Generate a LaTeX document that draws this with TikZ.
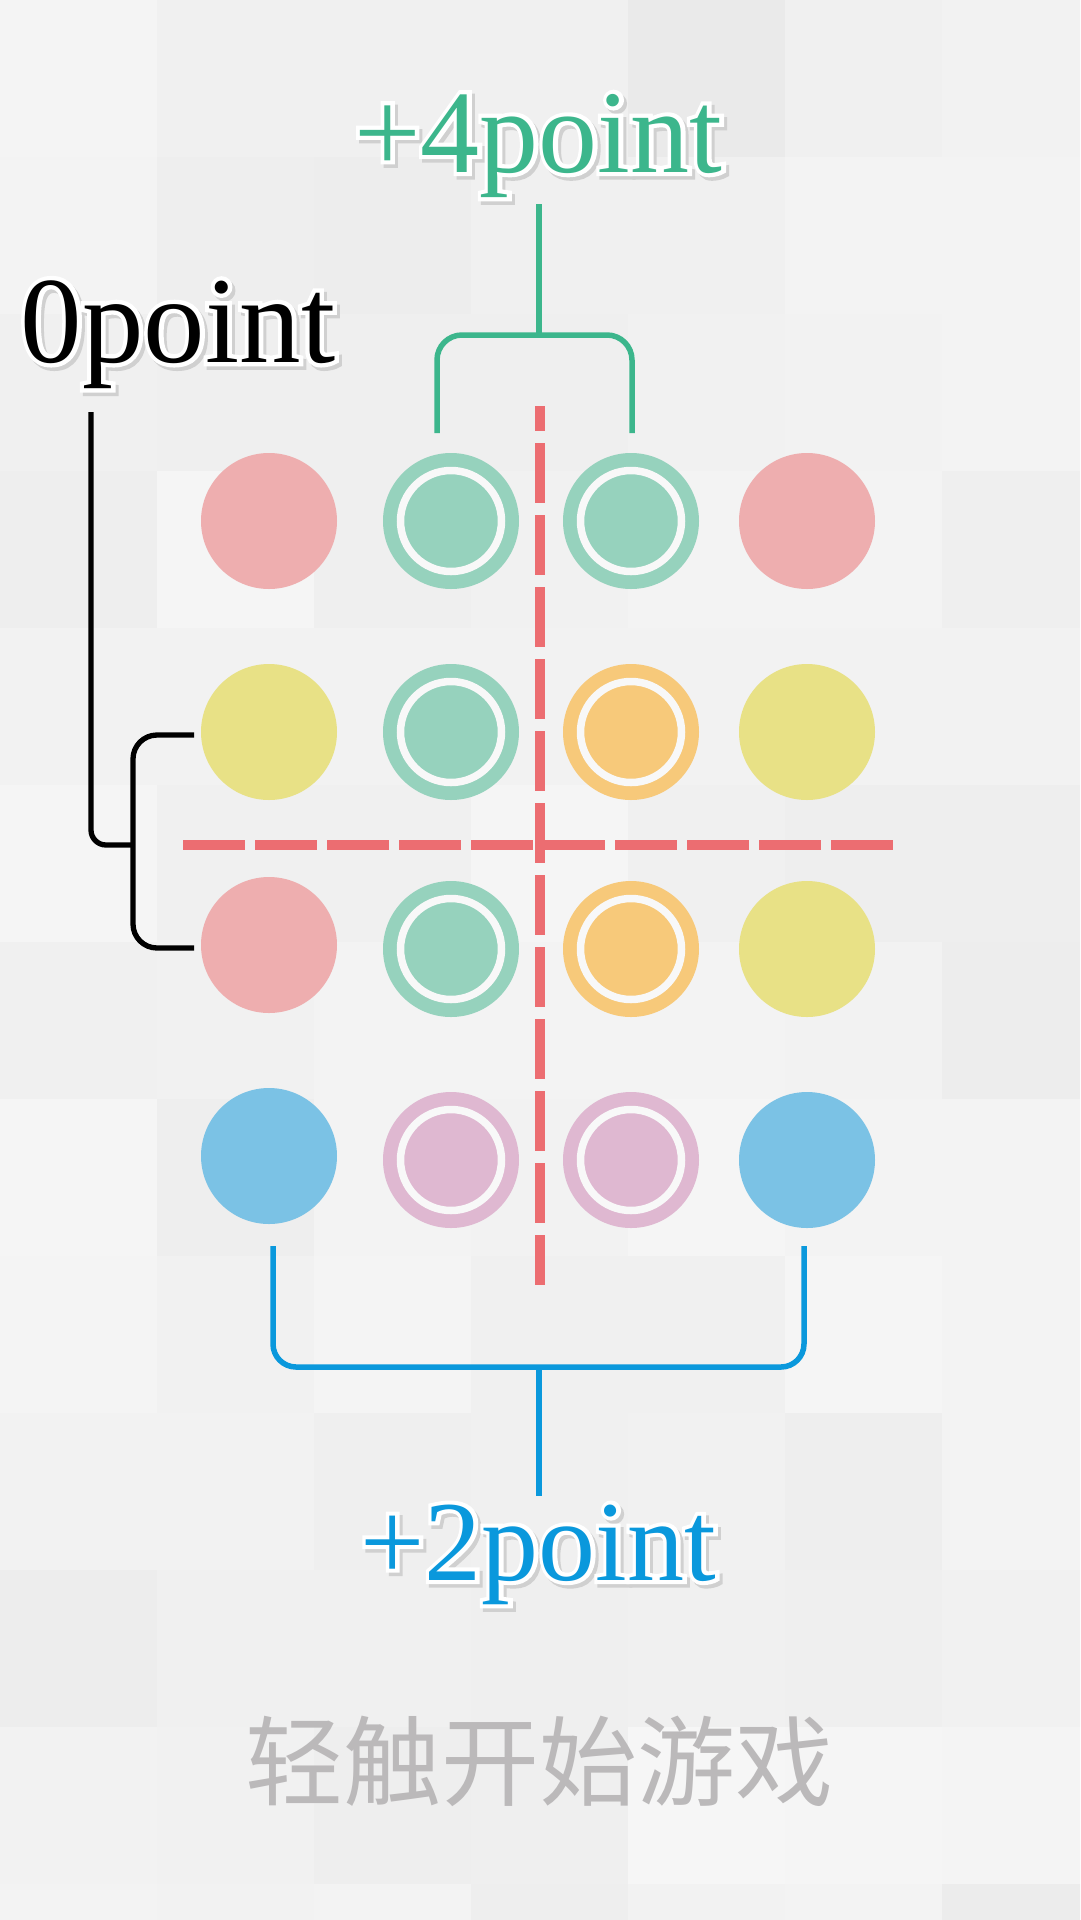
\documentclass[tikz,border=0pt]{standalone}
\usepackage{fontspec}
\usetikzlibrary{calc}
\newfontfamily\ptfont{Liberation Serif}
\newfontfamily\ptfonthalo{Liberation Serif}[FakeBold=7]
\newfontfamily\cjkfont{Noto Sans CJK SC}
\definecolor{linegreen}{HTML}{3CB68C}
\definecolor{lineblue}{HTML}{0A98DC}
\definecolor{linered}{HTML}{EC6D71}
\definecolor{pinkc}{HTML}{EEAEAF}
\definecolor{tealc}{HTML}{96D2BD}
\definecolor{yellowc}{HTML}{E8E186}
\definecolor{orangec}{HTML}{F7C97A}
\definecolor{bluec}{HTML}{7BC2E5}
\definecolor{mauvec}{HTML}{DFB8D1}
\definecolor{ringwhite}{HTML}{F8F8F8}
\definecolor{cjkgray}{HTML}{BBB9BA}
\definecolor{shadowgray}{HTML}{D0D0D0}
\tikzset{
  dot/.style={circle, inner sep=0pt, minimum size=136pt},
  ringdot/.style={dot, path picture={\draw[ringwhite, line width=7.5pt] (path picture bounding box.center) circle[radius=50.5pt];}},
  greenline/.style={draw=linegreen, line width=5.5pt},
  blueline/.style={draw=lineblue, line width=5.5pt},
  blackline/.style={draw=black, line width=5.3pt},
  reddash/.style={draw=linered, line width=10pt},
  lbl/.style={anchor=base, inner sep=0pt},
}
% #1 name, #2 x, #3 y, #4 colour, #5 size, #6 text
\newcommand\halotext[6]{%
  \node[lbl, text=shadowgray, font=\ptfonthalo\fontsize{#5}{#5}\selectfont] (#1s) at ($(#2,#3)+(3,3.5)$) {#6};
  \node[lbl, text=white, font=\ptfonthalo\fontsize{#5}{#5}\selectfont] (#1h) at (#2,#3) {#6};
  \node[lbl, text=#4, font=\ptfont\fontsize{#5}{#5}\selectfont] (#1) at (#2,#3) {#6};
}
\begin{document}
\begin{tikzpicture}[x=1pt, y=-1pt]
\useasboundingbox (0,0) rectangle (1080,1920);
\clip (0,0) rectangle (1080,1920);
% background tiles
\foreach \r/\vals in {
  0/{244,240,240,240,234,240,242},
  1/{243,238,237,240,240,243,243},
  2/{240,239,239,239,241,242,243},
  3/{238,245,239,241,243,243,239},
  4/{242,242,242,242,242,242,242},
  5/{245,240,240,245,240,238,238},
  6/{240,241,243,243,243,242,237},
  7/{245,238,243,242,245,243,243},
  8/{244,241,244,240,240,245,243},
  9/{242,242,239,240,241,238,243},
  10/{237,240,240,239,240,239,241},
  11/{242,241,238,239,246,245,244},
  12/{243,242,243,238,242,243,236}}{
  \foreach \g [count=\c from 0] in \vals {
    \fill[fill={rgb,255:red,\g;green,\g;blue,\g}] (\c*157,\r*157) rectangle ++(157,157);
  }
}
% dashed red lines
\coordinate (vtop) at (540,406);
\coordinate (vbot) at (540,1285);
\coordinate (hl) at (183,845);
\coordinate (hr) at (893,845);
\draw[reddash, dash pattern=on 62pt off 10pt] (hl) -- (hr);
\draw[reddash, dash pattern=on 60pt off 12pt, dash phase=35pt] (vtop) -- (vbot);
% circles
\node[dot, fill=pinkc] (c11) at (269,521) {};
\node[ringdot, fill=tealc] (c12) at (451,521) {};
\node[ringdot, fill=tealc] (c13) at (631,521) {};
\node[dot, fill=pinkc] (c14) at (807,521) {};
\node[dot, fill=yellowc] (c21) at (269,732) {};
\node[ringdot, fill=tealc] (c22) at (451,732) {};
\node[ringdot, fill=orangec] (c23) at (631,732) {};
\node[dot, fill=yellowc] (c24) at (807,732) {};
\node[dot, fill=pinkc] (c31) at (269,945) {};
\node[ringdot, fill=tealc] (c32) at (451,949) {};
\node[ringdot, fill=orangec] (c33) at (631,949) {};
\node[dot, fill=yellowc] (c34) at (807,949) {};
\node[dot, fill=bluec] (c41) at (269,1156) {};
\node[ringdot, fill=mauvec] (c42) at (451,1160) {};
\node[ringdot, fill=mauvec] (c43) at (631,1160) {};
\node[dot, fill=bluec] (c44) at (807,1160) {};
% green bracket
\coordinate (gtop) at (539,204);
\coordinate (gjoin) at (539,335);
\coordinate (gl) at (437,433);
\coordinate (gr) at (632,433);
\draw[greenline] (gtop) -- (gjoin);
\draw[greenline, rounded corners=25pt] (gl) |- (gjoin) -| (gr);
% black bracket
\coordinate (ktop) at (91,412);
\coordinate (kjoin) at (133,845);
\coordinate (kup) at (194,735);
\coordinate (kdn) at (194,948);
\draw[blackline, rounded corners=15pt] (ktop) |- (kjoin);
\draw[blackline, rounded corners=24pt] (kup) -| (kjoin) |- (kdn);
% blue bracket
\coordinate (bl) at (273,1246);
\coordinate (br) at (804,1246);
\coordinate (bjoin) at (539,1367);
\coordinate (bstem) at (539,1496);
\draw[blueline, rounded corners=23pt] (bl) |- (bjoin) -| (br);
\draw[blueline] (bjoin) -- (bstem);
% labels
\halotext{pfour}{538.5}{172}{linegreen}{118}{+4point}
\halotext{pzero}{178}{362}{black}{123}{0point}
\halotext{ptwo}{538.5}{1580}{lineblue}{114}{+2point}
\node[lbl, text=cjkgray, font=\cjkfont\fontsize{98}{98}\selectfont] (start) at (539,1798) {轻触开始游戏};
\end{tikzpicture}
\end{document}
